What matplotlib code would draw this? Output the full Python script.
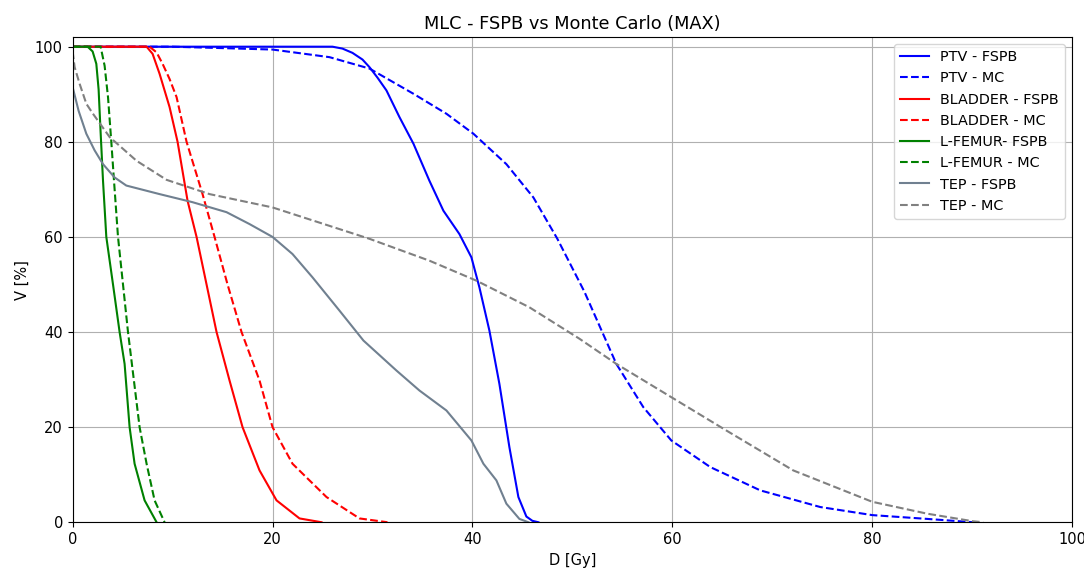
import matplotlib
matplotlib.use("Agg")
import matplotlib.pyplot as plt

# DVH curves: dose [Gy] and volume [%]
ptv_fspb_d = [0, 26.0, 27.0, 28.0, 29.0, 29.7, 30.5, 31.4, 32.7, 34.1, 35.7, 37.1, 38.7, 39.9, 40.7, 41.7, 42.7, 43.7, 44.6, 45.4, 46.0, 46.6]
ptv_fspb_v = [100, 100, 99.6, 98.7, 97.3, 95.7, 93.5, 90.8, 85.2, 79.6, 71.8, 65.5, 60.6, 55.7, 49.4, 40.3, 29.1, 15.8, 5.3, 1.2, 0.3, 0]

ptv_mc_d = [0, 10.0, 20.0, 25.7, 29.7, 34.1, 37.4, 40.1, 43.4, 46.1, 48.5, 51.2, 54.4, 57.1, 59.9, 63.8, 68.8, 74.8, 80.0, 85.5, 90.1]
ptv_mc_v = [100, 100, 99.4, 97.8, 95.4, 90.1, 85.9, 81.7, 75.3, 68.3, 59.6, 48.5, 33.3, 24.2, 17.2, 11.6, 6.7, 3.2, 1.5, 0.7, 0]

bladder_fspb_d = [0, 7.4, 8.0, 8.7, 9.7, 10.5, 11.5, 12.4, 13.4, 14.4, 15.7, 17.0, 18.7, 20.4, 22.7, 24.9]
bladder_fspb_v = [100, 100, 98.5, 94.3, 87.3, 80, 67.6, 60, 50, 40, 29.8, 20, 10.9, 4.6, 0.8, 0]

bladder_mc_d = [0, 7.7, 8.4, 9.0, 9.7, 10.4, 11.4, 13.0, 14.2, 15.5, 16.9, 18.7, 20.0, 22.0, 25.4, 28.7, 31.5]
bladder_mc_v = [100, 100, 98.8, 96.4, 93.2, 89.4, 80, 69, 60, 50, 40, 29.8, 20, 12.3, 5.3, 0.8, 0]

femur_fspb_d = [0, 1.5, 2.0, 2.37, 2.6, 2.8, 3.04, 3.37, 4.04, 4.7, 5.2, 5.7, 6.2, 7.2, 8.4]
femur_fspb_v = [100, 100, 99, 96.4, 91, 82, 71.8, 60, 50, 40, 33.3, 20, 12.3, 4.6, 0]

femur_mc_d = [0, 2.8, 3.2, 3.54, 3.87, 4.14, 4.54, 5.04, 5.54, 6.7, 7.4, 8.2, 9.2]
femur_mc_v = [100, 100, 96, 89.4, 80, 71.8, 60, 50, 40, 20, 12.3, 4.6, 0]

tep_fspb_d = [0, 0.6, 1.37, 2.2, 3.04, 4.2, 5.37, 8.7, 12.0, 15.4, 17.7, 20.0, 22.0, 24.0, 26.7, 29.1, 32.4, 34.7, 37.4, 39.9, 41.1, 42.4, 43.4, 44.7, 45.6]
tep_fspb_v = [91.5, 86.5, 81.7, 78.2, 75.3, 72.5, 70.8, 69, 67.3, 65.2, 62.7, 60, 56.4, 51.5, 44.5, 38.2, 31.9, 27.7, 23.5, 17.2, 12.3, 8.8, 3.9, 0.7, 0]

tep_mc_d = [0, 0.2, 0.7, 1.37, 2.0, 3.7, 6.4, 9.4, 13.7, 20.0, 29.7, 35.7, 40.4, 45.7, 50.7, 54.4, 59.9, 65.4, 72.1, 80.0, 85.5, 90.1, 91.1]
tep_mc_v = [99, 95.7, 92.2, 88, 86, 81, 76, 72, 69, 66.2, 59.6, 55, 50.8, 45.2, 38.6, 33.3, 26.3, 19.3, 10.9, 4.3, 1.8, 0.2, 0]

plt.rcParams['font.size'] = 10.5

fig, ax = plt.subplots(figsize=(10.84, 5.72), dpi=100)
fig.subplots_adjust(left=0.067, right=0.989, top=0.935, bottom=0.087)

ax.plot(ptv_fspb_d, ptv_fspb_v, color='blue', linestyle='-', label='PTV - FSPB')
ax.plot(ptv_mc_d, ptv_mc_v, color='blue', linestyle='--', label='PTV - MC')
ax.plot(bladder_fspb_d, bladder_fspb_v, color='red', linestyle='-', label='BLADDER - FSPB')
ax.plot(bladder_mc_d, bladder_mc_v, color='red', linestyle='--', label='BLADDER - MC')
ax.plot(femur_fspb_d, femur_fspb_v, color='green', linestyle='-', label='L-FEMUR- FSPB')
ax.plot(femur_mc_d, femur_mc_v, color='green', linestyle='--', label='L-FEMUR - MC')
ax.plot(tep_fspb_d, tep_fspb_v, color='slategray', linestyle='-', label='TEP - FSPB')
ax.plot(tep_mc_d, tep_mc_v, color='gray', linestyle='--', label='TEP - MC')

ax.set_xlim(0, 100)
ax.set_ylim(0, 102)
ax.set_xlabel('D [Gy]')
ax.set_ylabel('V [%]')
ax.set_title('MLC - FSPB vs Monte Carlo (MAX)', fontsize=12.8)
ax.grid(True)
ax.legend(loc='upper right', fontsize=10.4)

fig.savefig('out.png')
